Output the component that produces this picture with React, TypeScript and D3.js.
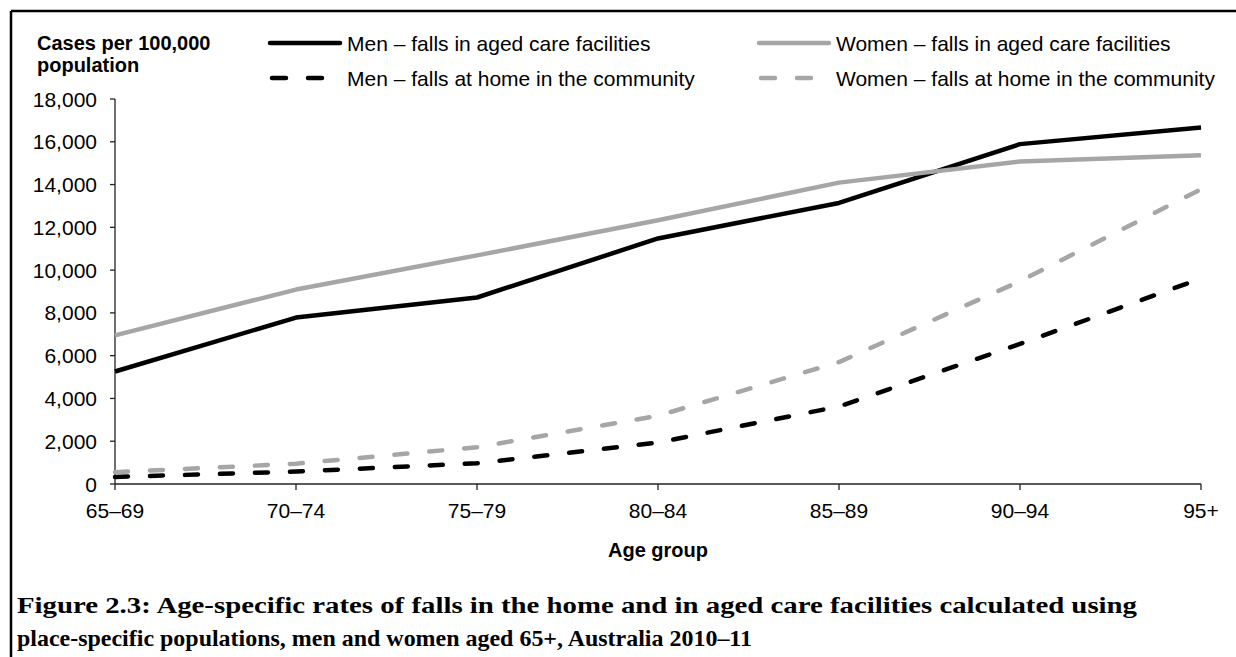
import * as d3 from "d3";
import React from "react";

const ageGroups = ["65–69", "70–74", "75–79", "80–84", "85–89", "90–94", "95+"];
const menAgedCare = [5260, 7780, 8720, 11480, 13140, 15890, 16670];
const womenAgedCare = [6950, 9090, 10690, 12330, 14090, 15080, 15375];
const menHome = [330, 580, 970, 1940, 3625, 6550, 9610];
const womenHome = [550, 950, 1720, 3190, 5700, 9480, 13780];
const yTicks = [0, 2000, 4000, 6000, 8000, 10000, 12000, 14000, 16000, 18000];

const series = [
  { name: "Men – falls in aged care facilities", values: menAgedCare, color: "#000000", dashed: false },
  { name: "Women – falls in aged care facilities", values: womenAgedCare, color: "#a6a6a6", dashed: false },
  { name: "Men – falls at home in the community", values: menHome, color: "#000000", dashed: true },
  { name: "Women – falls at home in the community", values: womenHome, color: "#a6a6a6", dashed: true },
];

const W = 1236, H = 657;
const sans = "'Liberation Sans', Arial, sans-serif";
const serif = "'Palatino Linotype', 'Book Antiqua', Palatino, 'Liberation Serif', serif";

export default function App() {
  const x = d3.scalePoint<string>().domain(ageGroups).range([115, 1201]);
  const y = d3.scaleLinear().domain([0, 18000]).range([484, 99]);
  const line = d3.line<number>()
    .x((_, i) => x(ageGroups[i]) as number)
    .y(d => y(d));
  const fmt = d3.format(",");
  const dash = "13 22";

  // legend slots: column x, row y
  const legendPos = [
    { lx: 270, ly: 43 },
    { lx: 759, ly: 43 },
    { lx: 270, ly: 78 },
    { lx: 759, ly: 78 },
  ];

  return (
    <svg width={W} height={H} style={{ position: "absolute", left: 0, top: 0, background: "#fff" }}>
      <rect x={0} y={0} width={W} height={H} fill="#fff" />
      {/* frame (clipped at right and bottom) */}
      <line x1={11} y1={11} x2={W} y2={11} stroke="#000" strokeWidth={2.5} />
      <line x1={11} y1={11} x2={11} y2={H} stroke="#000" strokeWidth={2.5} />

      {/* y axis */}
      <line x1={115} x2={115} y1={y(18000)} y2={y(0)} stroke="#222" strokeWidth={1.3} />
      {yTicks.map(t => (
        <g key={t}>
          <line x1={110} x2={115} y1={y(t)} y2={y(t)} stroke="#222" strokeWidth={1.3} />
          <text x={97} y={y(t)} dy="0.36em" textAnchor="end" fontFamily={sans} fontSize={21}>{fmt(t)}</text>
        </g>
      ))}
      {/* x axis */}
      <line x1={115} x2={1201} y1={y(0)} y2={y(0)} stroke="#222" strokeWidth={1.3} />
      {ageGroups.map(g => (
        <g key={g}>
          <line x1={x(g)} x2={x(g)} y1={y(0)} y2={y(0) + 6} stroke="#222" strokeWidth={1.3} />
          <text x={x(g)} y={518} textAnchor="middle" fontFamily={sans} fontSize={21}>{g}</text>
        </g>
      ))}

      {/* series */}
      {series.map(s => (
        <path key={s.name} d={line(s.values) || ""} fill="none" stroke={s.color} strokeWidth={4.5}
          strokeDasharray={s.dashed ? dash : undefined} strokeLinecap={s.dashed ? "round" : "butt"}
          strokeLinejoin="round" />
      ))}

      {/* axis titles */}
      <text x={37} y={50} fontFamily={sans} fontSize={20} fontWeight="bold">Cases per 100,000</text>
      <text x={37} y={72} fontFamily={sans} fontSize={20} fontWeight="bold">population</text>
      <text x={658} y={557} textAnchor="middle" fontFamily={sans} fontSize={20} fontWeight="bold">Age group</text>

      {/* legend */}
      {series.map((s, i) => {
        const p = legendPos[i];
        return (
          <g key={s.name}>
            <line x1={p.lx + (s.dashed ? 2 : 0)} x2={p.lx + 70} y1={p.ly} y2={p.ly} stroke={s.color} strokeWidth={4.5}
              strokeDasharray={s.dashed ? "14 22" : undefined} strokeLinecap="round" />
            <text x={p.lx + 77} y={p.ly} dy="0.36em" fontFamily={sans} fontSize={21}>{s.name}</text>
          </g>
        );
      })}

      {/* figure caption */}
      <text x={17} y={613} fontFamily={serif} fontSize={23} fontWeight="bold" textLength={1120} lengthAdjust="spacingAndGlyphs">
        Figure 2.3: Age-specific rates of falls in the home and in aged care facilities calculated using
      </text>
      <text x={17} y={646} fontFamily={serif} fontSize={23} fontWeight="bold" textLength={735} lengthAdjust="spacingAndGlyphs">
        place-specific populations, men and women aged 65+, Australia 2010–11
      </text>
    </svg>
  );
}
